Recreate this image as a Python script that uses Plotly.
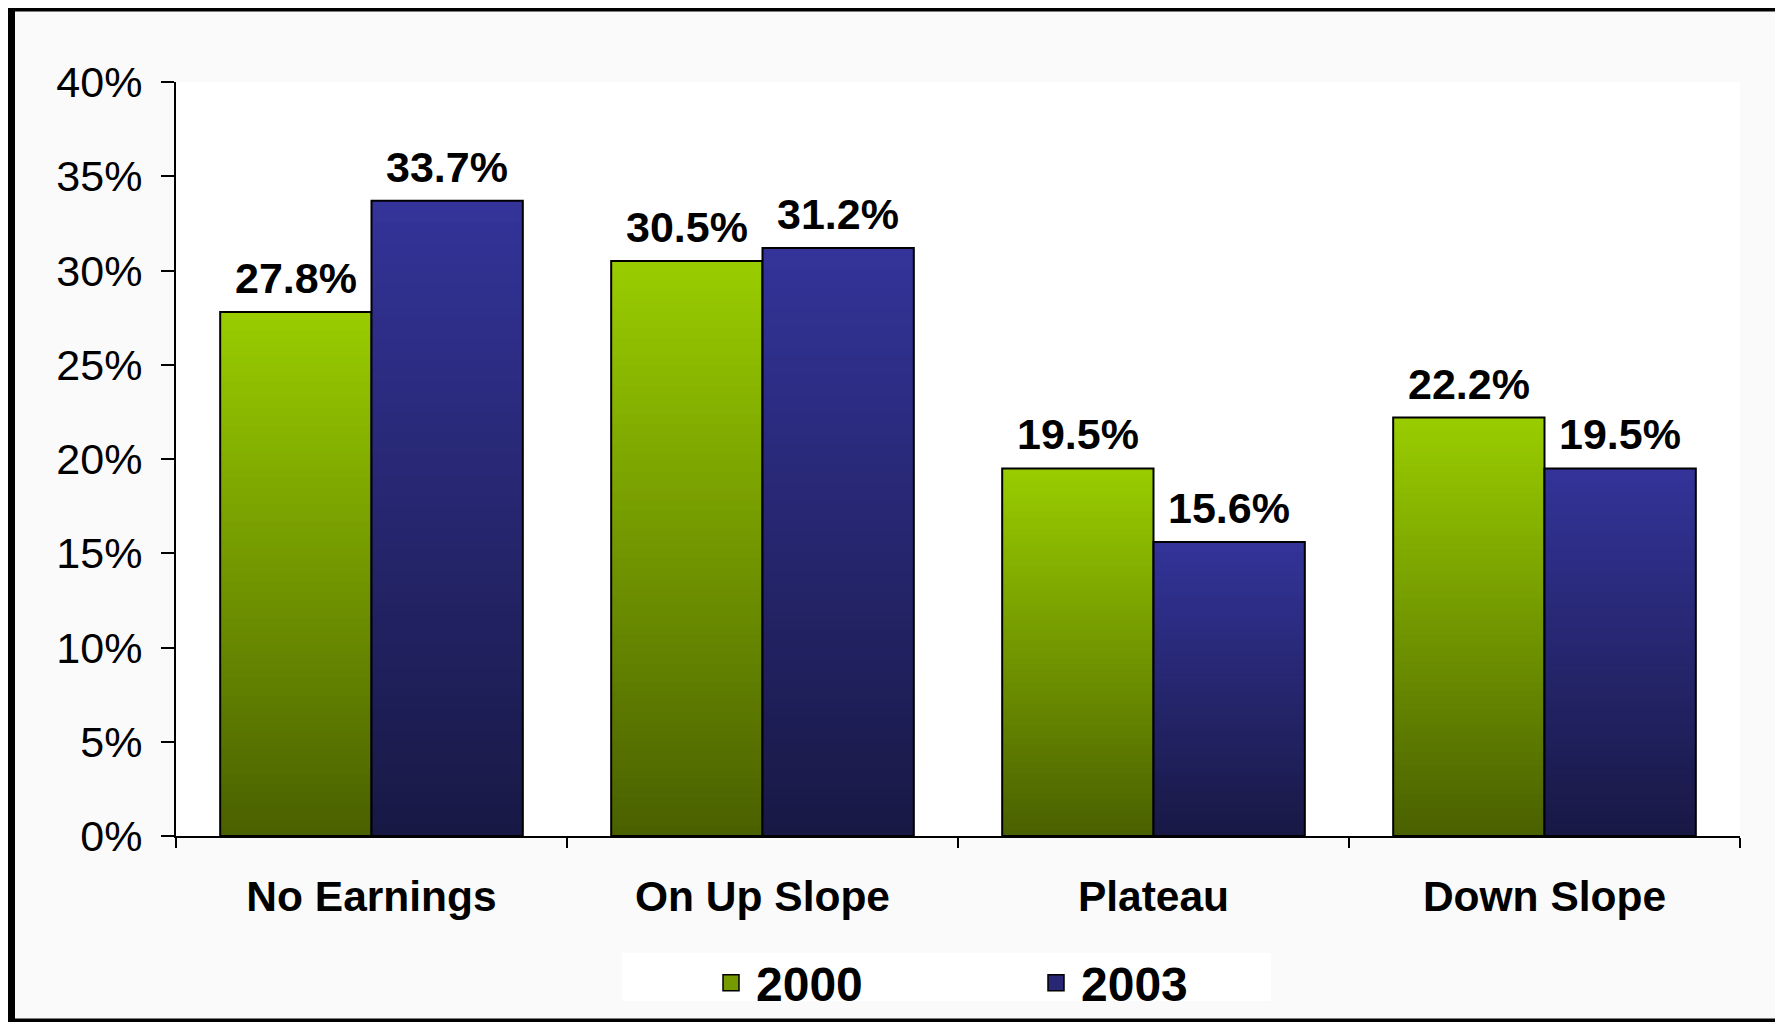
import plotly.graph_objects as go

categories = ["No Earnings", "On Up Slope", "Plateau", "Down Slope"]
years = ["2000", "2003"]
share_2000 = [27.8, 30.5, 19.5, 22.2]
share_2003 = [33.7, 31.2, 15.6, 19.5]
y_ticks = [0, 5, 10, 15, 20, 25, 30, 35, 40]
y_labels = ["%d%%" % v for v in y_ticks]

# page body has an 8px margin, so the figure sits 8px in from the screen corner
OFF = 8
W, H = 1775, 1014
L, R, T, B = 168, 43, 74, 186
BARGAP = 0.226
FONT = "Liberation Sans, Arial, sans-serif"

# gradient end colours (top of bar, base of bar)
shades = {
    "2000": ((153, 204, 0), (73, 95, 0)),
    "2003": ((51, 51, 153), (24, 24, 68)),
}


def mix(top, bottom, f):
    # f = 1 at the top of a bar, 0 at its base
    return "rgb(%d,%d,%d)" % tuple(round(b + (t - b) * f) for t, b in zip(top, bottom))


def px_x(p):
    # screen pixel -> paper x
    return (p - OFF - L) / (W - L - R)


def px_y(p):
    return (H - B - (p - OFF)) / (H - T - B)


N = 60
fig = go.Figure()
for year, vals in zip(years, [share_2000, share_2003]):
    top, bottom = shades[year]
    # tallest (brightest) layer first, shorter darker ones over it -> vertical gradient
    for k in range(N):
        f = (N - k) / N
        fig.add_trace(go.Bar(
            x=categories, y=[v * f for v in vals], offsetgroup=year,
            marker=dict(color=mix(top, bottom, f), line_width=0),
            showlegend=False, hoverinfo="skip",
        ))
    # outline
    fig.add_trace(go.Bar(
        x=categories, y=vals, offsetgroup=year, name=year, showlegend=False,
        marker=dict(color="rgba(0,0,0,0)", line=dict(color="black", width=2)),
    ))
    # legend swatch
    fig.add_trace(go.Scatter(
        x=[None], y=[None], mode="markers", name=year,
        marker=dict(symbol="square", size=22, color=mix(top, bottom, 0.55),
                    line=dict(color="black", width=1.5)),
    ))

# value labels above each bar
cat_px = (W - L - R) / len(categories)
bar_px = cat_px * (1 - BARGAP) / len(years)
annotations = []
for i, vals in enumerate([share_2000, share_2003]):
    shift = (i - (len(years) - 1) / 2) * bar_px
    for c, v in zip(categories, vals):
        annotations.append(dict(
            x=c, y=v, xref="x", yref="y", text="%.1f%%" % v, showarrow=False,
            xshift=shift, yshift=8, yanchor="bottom",
            font=dict(family=FONT, size=43, color="black", weight="bold"),
        ))

fig.update_layout(
    width=W, height=H,
    margin=dict(l=L, r=R, t=T, b=B, autoexpand=False),
    paper_bgcolor="#fafafa", plot_bgcolor="white",
    barmode="group", bargap=BARGAP, bargroupgap=0,
    font=dict(family=FONT, color="black"),
    showlegend=True,
    legend=dict(
        orientation="h", x=px_x(706), xanchor="left", y=px_y(983), yanchor="middle",
        bgcolor="rgba(0,0,0,0)", font=dict(size=48, weight="bold"),
        itemwidth=40, entrywidth=270, entrywidthmode="pixels",
    ),
    annotations=annotations,
    shapes=[
        # white legend panel
        dict(type="rect", xref="paper", yref="paper", layer="below",
             x0=px_x(622), x1=px_x(1271), y0=px_y(1001), y1=px_y(953),
             fillcolor="white", line_width=0),
        # heavy black frame round the chart
        dict(type="rect", xref="paper", yref="paper", layer="above",
             x0=px_x(11.5), x1=px_x(1779), y0=px_y(1022), y1=px_y(8),
             line=dict(color="black", width=7)),
    ],
)

fig.update_xaxes(
    showline=True, linecolor="black", linewidth=2, showgrid=False,
    ticks="outside", tickson="boundaries", ticklen=10, tickwidth=2, tickcolor="black",
    tickfont=dict(size=42.5, weight="bold"), ticklabelstandoff=22,
)
fig.update_yaxes(
    range=[0, 40], tickvals=y_ticks, ticktext=y_labels,
    showline=True, linecolor="black", linewidth=2, showgrid=False, zeroline=False,
    ticks="outside", ticklen=13, tickwidth=2, tickcolor="black",
    tickfont=dict(size=43), ticklabelstandoff=10,
)

fig.write_html("out.html")
